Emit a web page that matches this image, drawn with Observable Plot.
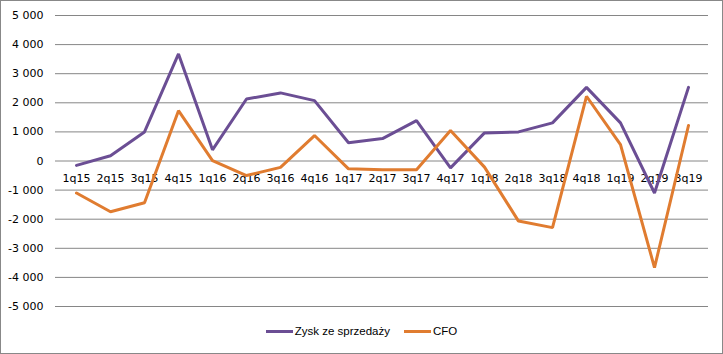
<!DOCTYPE html>
<html><head><meta charset="utf-8">
<script src="https://cdn.jsdelivr.net/npm/d3@7"></script>
<script src="https://cdn.jsdelivr.net/npm/@observablehq/plot@0.6"></script>
<style>
body{margin:0;background:#fff;}
#frame{width:723px;height:354px;box-sizing:border-box;border:1px solid #888;position:relative;overflow:hidden;background:#fff;}
#legend{position:absolute;top:324px;left:0;width:721px;display:flex;justify-content:center;gap:14px;font:11.5px "Liberation Sans",Arial,sans-serif;color:#000;}
.item{display:flex;align-items:center;}
.sw{display:inline-block;width:27px;height:3px;margin-right:2px;}
</style></head>
<body><div id="frame"><div id="chart"></div><div id="legend"></div></div>
<script>
const quarters = ["1q15","2q15","3q15","4q15","1q16","2q16","3q16","4q16","1q17","2q17","3q17","4q17","1q18","2q18","3q18","4q18","1q19","2q19","3q19"];
const zysk = [-150,180,1000,3680,385,2130,2340,2075,625,770,1390,-235,965,1000,1310,2530,1310,-1100,2530];
const cfo = [-1100,-1745,-1435,1730,10,-500,-220,875,-270,-300,-300,1045,-210,-2065,-2290,2225,565,-3665,1220];
const yTicks = [-5000,-4000,-3000,-2000,-1000,0,1000,2000,3000,4000,5000];
const seriesNames = ["Zysk ze sprzedaży","CFO"];
const colors = ["#6B4E94","#E07C30"];

const data = [];
quarters.forEach((q,i)=>{
  data.push({q, v: zysk[i], s: seriesNames[0]});
  data.push({q, v: cfo[i], s: seriesNames[1]});
});
const fmt = d => (d<0?"-":"") + d3.format(",")(Math.abs(d)).replace(/,/g," ");

const chart = Plot.plot({
  width: 721, height: 318,
  marginLeft: 54, marginRight: 14, marginTop: 14, marginBottom: 13,
  style: {fontFamily: "DejaVu Sans, sans-serif", fontSize: "11px", background: "#fff", color: "#000"},
  x: {type: "point", domain: quarters, padding: 0.5, axis: null},
  y: {domain: [-5000, 5000], ticks: yTicks, tickFormat: fmt, tickSize: 0, tickPadding: 12, label: null},
  color: {domain: seriesNames, range: colors},
  marks: [
    Plot.ruleY(yTicks, {stroke: "#868686", strokeWidth: 1}),
    Plot.text(quarters, {x: d => d, y: () => 0, text: d => d, dy: 17, fill: "#000", fontSize: 11}),
    Plot.line(data, {x: "q", y: "v", z: "s", stroke: "s", strokeWidth: 3, strokeLinejoin: "miter"})
  ]
});
document.getElementById("chart").appendChild(chart);
const lg = document.getElementById("legend");
seriesNames.forEach((n,i)=>{
  const it = document.createElement("div"); it.className="item";
  it.innerHTML = `<span class="sw" style="background:${colors[i]}"></span><span>${n}</span>`;
  lg.appendChild(it);
});
</script></body></html>
